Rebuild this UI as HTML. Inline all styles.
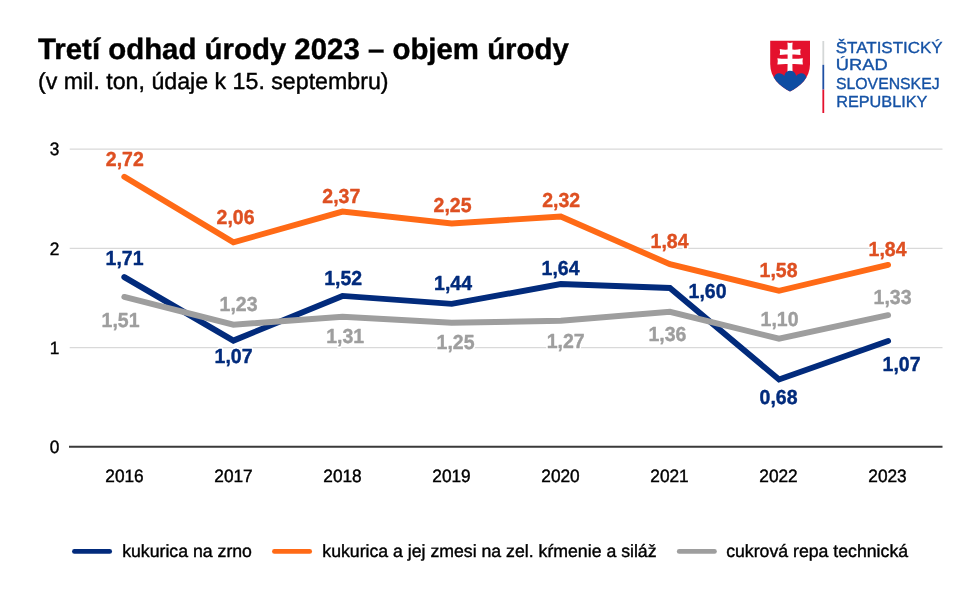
<!DOCTYPE html>
<html><head><meta charset="utf-8">
<style>
html,body{margin:0;padding:0;background:#fff;}
body{width:980px;height:594px;overflow:hidden;font-family:"Liberation Sans",sans-serif;}
svg{display:block}
text{font-family:"Liberation Sans",sans-serif;text-rendering:geometricPrecision}
.t{font-weight:bold;font-size:29.4px;fill:#000;stroke:#000;stroke-width:0.4px}
.s{font-size:23.2px;fill:#000;stroke:#000;stroke-width:0.4px}
.ax{font-size:17.3px;fill:#000;stroke:#000;stroke-width:0.4px}
.lo,.ln,.lg{font-weight:bold;font-size:19.5px;text-anchor:middle;stroke-width:0.4px;stroke-linejoin:round}
.lo{fill:#DE5022;stroke:#DE5022}
.ln{fill:#022B7C;stroke:#022B7C}
.lg{fill:#9E9E9E;stroke:#9E9E9E}
text.h{fill:#fff;stroke:#fff;stroke-width:3.4px}
.leg{font-size:17.7px;fill:#000;stroke:#000;stroke-width:0.4px}
.logo{font-size:16px;fill:#1552A5;stroke:#1552A5;stroke-width:0.35px}
</style></head><body>
<svg width="980" height="594" viewBox="0 0 980 594" style="will-change:transform">
<rect width="980" height="594" fill="#fff"/>
<text class="t" x="38" y="58.8">Tretí odhad úrody 2023 – objem úrody</text>
<text class="s" x="38" y="88.6">(v mil. ton, údaje k 15. septembru)</text>
<g stroke="#D9D9D9" stroke-width="1.3">
<line x1="69.7" x2="942.5" y1="149.05" y2="149.05"/>
<line x1="69.7" x2="942.5" y1="248.4" y2="248.4"/>
<line x1="69.7" x2="942.5" y1="347.6" y2="347.6"/>
</g>
<line x1="69" x2="942.5" y1="446.8" y2="446.8" stroke="#3a3a3a" stroke-width="2.1"/>
<g class="ax" text-anchor="end">
<text transform="translate(59.3,155.3) scale(1,1.04)">3</text>
<text transform="translate(59.3,254.6) scale(1,1.04)">2</text>
<text transform="translate(59.3,353.9) scale(1,1.04)">1</text>
<text transform="translate(59.3,453.2) scale(1,1.04)">0</text>
</g>
<g class="ax" text-anchor="middle">
<text transform="translate(124.5,482.4) scale(1,1.04)">2016</text>
<text transform="translate(233.5,482.4) scale(1,1.04)">2017</text>
<text transform="translate(342.5,482.4) scale(1,1.04)">2018</text>
<text transform="translate(451.5,482.4) scale(1,1.04)">2019</text>
<text transform="translate(560.5,482.4) scale(1,1.04)">2020</text>
<text transform="translate(669.5,482.4) scale(1,1.04)">2021</text>
<text transform="translate(778.5,482.4) scale(1,1.04)">2022</text>
<text transform="translate(887.5,482.4) scale(1,1.04)">2023</text>
</g>
<g fill="none" stroke-width="5.9" stroke-linecap="round" stroke-linejoin="miter">
<polyline stroke="#022B7C" points="124.3,277.1 233.4,340.6 342.5,295.9 451.7,303.9 560.8,284.0 669.9,288.0 779.0,379.5 888.1,341.0"/>
<polyline stroke="#FF6A16" points="124.3,176.8 233.4,242.3 342.5,211.6 451.7,223.5 560.8,216.5 669.9,264.2 779.0,290.8 888.1,264.9"/>
<polyline stroke="#9E9E9E" points="124.3,296.9 233.4,324.7 342.5,316.8 451.7,322.7 560.8,320.8 669.9,311.8 779.0,338.7 888.1,315.2"/>
</g>
<g class="lo">
<text class="h" transform="translate(124.8,166.3) scale(1,1.04)">2,72</text>
<text class="h" transform="translate(235.5,223.5) scale(1,1.04)">2,06</text>
<text class="h" transform="translate(341.3,202.5) scale(1,1.04)">2,37</text>
<text class="h" transform="translate(452.5,212.3) scale(1,1.04)">2,25</text>
<text class="h" transform="translate(561.1,206.9) scale(1,1.04)">2,32</text>
<text class="h" transform="translate(669.5,248.2) scale(1,1.04)">1,84</text>
<text class="h" transform="translate(778.5,277.4) scale(1,1.04)">1,58</text>
<text class="h" transform="translate(887.5,255.5) scale(1,1.04)">1,84</text>
<text transform="translate(124.8,166.3) scale(1,1.04)">2,72</text>
<text transform="translate(235.5,223.5) scale(1,1.04)">2,06</text>
<text transform="translate(341.3,202.5) scale(1,1.04)">2,37</text>
<text transform="translate(452.5,212.3) scale(1,1.04)">2,25</text>
<text transform="translate(561.1,206.9) scale(1,1.04)">2,32</text>
<text transform="translate(669.5,248.2) scale(1,1.04)">1,84</text>
<text transform="translate(778.5,277.4) scale(1,1.04)">1,58</text>
<text transform="translate(887.5,255.5) scale(1,1.04)">1,84</text>
</g>
<g class="ln">
<text class="h" transform="translate(124.5,265.3) scale(1,1.04)">1,71</text>
<text class="h" transform="translate(233.5,362.9) scale(1,1.04)">1,07</text>
<text class="h" transform="translate(343.2,284.8) scale(1,1.04)">1,52</text>
<text class="h" transform="translate(453,290) scale(1,1.04)">1,44</text>
<text class="h" transform="translate(560.5,275.2) scale(1,1.04)">1,64</text>
<text class="h" transform="translate(707.5,297.9) scale(1,1.04)">1,60</text>
<text class="h" transform="translate(778.5,404) scale(1,1.04)">0,68</text>
<text class="h" transform="translate(901.5,371) scale(1,1.04)">1,07</text>
<text transform="translate(124.5,265.3) scale(1,1.04)">1,71</text>
<text transform="translate(233.5,362.9) scale(1,1.04)">1,07</text>
<text transform="translate(343.2,284.8) scale(1,1.04)">1,52</text>
<text transform="translate(453,290) scale(1,1.04)">1,44</text>
<text transform="translate(560.5,275.2) scale(1,1.04)">1,64</text>
<text transform="translate(707.5,297.9) scale(1,1.04)">1,60</text>
<text transform="translate(778.5,404) scale(1,1.04)">0,68</text>
<text transform="translate(901.5,371) scale(1,1.04)">1,07</text>
</g>
<g class="lg">
<text class="h" transform="translate(120.5,326.5) scale(1,1.04)">1,51</text>
<text class="h" transform="translate(238.5,311.3) scale(1,1.04)">1,23</text>
<text class="h" transform="translate(345.2,342.8) scale(1,1.04)">1,31</text>
<text class="h" transform="translate(455.5,348.7) scale(1,1.04)">1,25</text>
<text class="h" transform="translate(565.7,348.4) scale(1,1.04)">1,27</text>
<text class="h" transform="translate(667.4,340.7) scale(1,1.04)">1,36</text>
<text class="h" transform="translate(779.5,326.3) scale(1,1.04)">1,10</text>
<text class="h" transform="translate(892.5,303.5) scale(1,1.04)">1,33</text>
<text transform="translate(120.5,326.5) scale(1,1.04)">1,51</text>
<text transform="translate(238.5,311.3) scale(1,1.04)">1,23</text>
<text transform="translate(345.2,342.8) scale(1,1.04)">1,31</text>
<text transform="translate(455.5,348.7) scale(1,1.04)">1,25</text>
<text transform="translate(565.7,348.4) scale(1,1.04)">1,27</text>
<text transform="translate(667.4,340.7) scale(1,1.04)">1,36</text>
<text transform="translate(779.5,326.3) scale(1,1.04)">1,10</text>
<text transform="translate(892.5,303.5) scale(1,1.04)">1,33</text>
</g>
<g stroke-width="4.7" stroke-linecap="round">
<line x1="74.4" x2="109.7" y1="551.45" y2="551.45" stroke="#022B7C"/>
<line x1="274.4" x2="309.7" y1="551.45" y2="551.45" stroke="#FF6A16"/>
<line x1="679.2" x2="714.5" y1="551.45" y2="551.45" stroke="#9E9E9E"/>
</g>
<g class="leg">
<text x="122.2" y="556.9">kukurica na zrno</text>
<text x="322.3" y="556.9">kukurica a jej zmesi na zel. kŕmenie a siláž</text>
<text x="726.2" y="556.9">cukrová repa technická</text>
</g>
<g id="logo">
<defs><clipPath id="sh"><path d="M770.2,40.8 H810 V64 C810,78 800,86.5 790,91.5 C780,86.5 770.2,78 770.2,64 Z"/></clipPath></defs>
<g clip-path="url(#sh)">
<rect x="765" y="35" width="50" height="60" fill="#E4112D"/>
<!-- cross -->
<g fill="#fff">
<path d="M787.4,42.6 Q790,43.5 792.6,42.6 Q792.2,46 792.4,49.6 Q796.5,49.9 800.6,49.1 Q799.9,52 800.6,55.1 Q796.5,54.4 792.4,54.6 L792.4,58.8 Q797.5,59 802.9,58.2 Q802,61.3 802.9,64.6 Q797.5,63.8 792.4,64 L792.6,74 H787.4 L787.6,64 Q782.5,63.8 777.4,64.6 Q778.3,61.3 777.4,58.2 Q782.5,59 787.6,58.8 L787.6,54.6 Q783.5,54.4 779.7,55.1 Q780.4,52 779.7,49.1 Q783.5,49.9 787.6,49.6 Q787.8,46 787.4,42.6 Z"/>
</g>
<!-- hills -->
<path fill="#0F4DA2" d="M765,95 V80 C768,79 771,78 774.3,77 C775,73.8 778,72.8 780.5,73.6 C782.3,74 783.5,75 784.3,76 C784.8,72.5 787.5,70.8 790.2,70.8 C793,70.8 795.6,72.5 796.2,76 C797,75 798.2,74 800,73.6 C802.5,72.8 805.3,73.8 806.2,77 C809,78 812,79 815,80 V95 Z"/>
</g>
<rect x="822.4" y="41" width="1.8" height="23.8" fill="#D4D7D7"/>
<rect x="822.4" y="64.8" width="1.8" height="24.8" fill="#1F4FA3"/>
<rect x="822.4" y="89.6" width="1.8" height="23.4" fill="#E4112D"/>
<g class="logo">
<text x="835.8" y="52.6" textLength="106.8" lengthAdjust="spacingAndGlyphs">ŠTATISTICKÝ</text>
<text x="835.8" y="70.4" textLength="51.8" lengthAdjust="spacingAndGlyphs">ÚRAD</text>
<text x="836" y="89.2" textLength="103.6" lengthAdjust="spacingAndGlyphs">SLOVENSKEJ</text>
<text x="836.2" y="107" textLength="91.2" lengthAdjust="spacingAndGlyphs">REPUBLIKY</text>
</g>
</g>
</svg>
</body></html>
